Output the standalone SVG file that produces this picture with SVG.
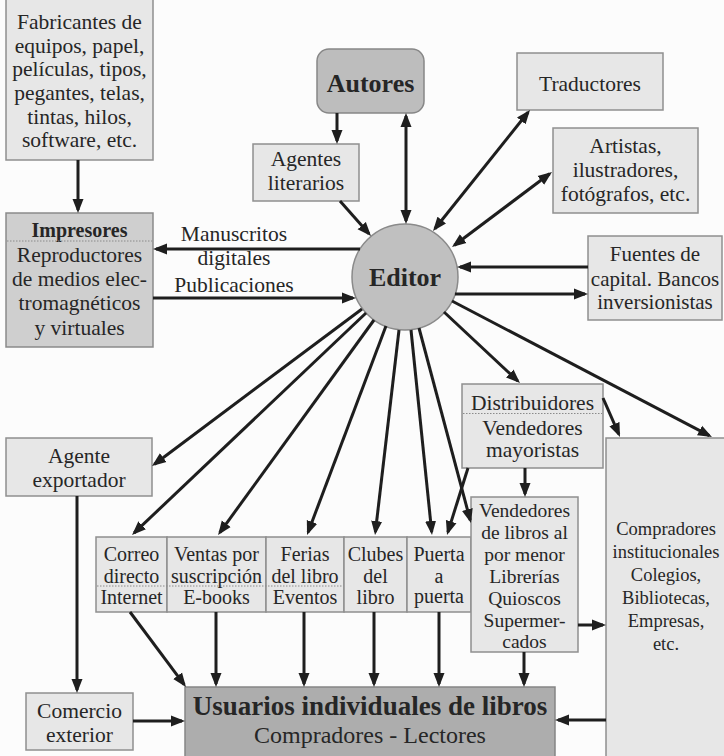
<svg xmlns="http://www.w3.org/2000/svg" width="724" height="756" viewBox="0 0 724 756">
<style>
text{font-family:"Liberation Serif","Times New Roman",serif;fill:#262626;text-anchor:middle}
.t{font-size:21.5px}
.s{font-size:20px}
.v{font-size:19.5px}
.c{font-size:18.5px}
.b{font-weight:bold}
.box{fill:#e7e7e7;stroke:#8f8f8f;stroke-width:1.5}
.mid{fill:#cfcfcf;stroke:#8a8a8a;stroke-width:1.5}
.dot{stroke:#8a8a8a;stroke-width:1;stroke-dasharray:1.5 1.5;fill:none}
.ln{stroke:#1e1e1e;stroke-width:3;fill:none;marker-end:url(#ah)}
.bi{marker-start:url(#ah)}
</style>
<defs>
<marker id="ah" markerUnits="userSpaceOnUse" markerWidth="15" markerHeight="12" refX="11" refY="6" orient="auto-start-reverse">
<path d="M0,0.5 L14,6 L0,11.5 z" fill="#1e1e1e"/>
</marker>
</defs>
<rect width="724" height="756" fill="#fcfcfc"/>

<g id="fabricantes">
<rect class="box" x="6" y="-1" width="147" height="161"/>
<text class="t" x="79.5" y="29">Fabricantes de</text>
<text class="t" x="79.5" y="52.5">equipos, papel,</text>
<text class="t" x="79.5" y="76">películas, tipos,</text>
<text class="t" x="79.5" y="100">pegantes, telas,</text>
<text class="t" x="79.5" y="123.5">tintas, hilos,</text>
<text class="t" x="79.5" y="147">software, etc.</text>
</g>

<g id="impresores">
<rect class="mid" x="6" y="213" width="147" height="134"/>
<text class="b" x="79.5" y="237" style="font-size:20px">Impresores</text>
<line class="dot" x1="7" y1="241" x2="152" y2="241"/>
<text class="t" x="79.5" y="262">Reproductores</text>
<text class="t" x="79.5" y="286">de medios elec-</text>
<text class="t" x="79.5" y="310">tromagnéticos</text>
<text class="t" x="79.5" y="335">y virtuales</text>
</g>

<g id="autores">
<rect x="317" y="49" width="107" height="64" rx="12" fill="#bdbdbd" stroke="#878787" stroke-width="1.5"/>
<text class="b" x="370.5" y="92" style="font-size:26px">Autores</text>
</g>

<g id="agentes">
<rect class="box" x="253" y="144" width="106" height="57"/>
<text class="t" x="306" y="166">Agentes</text>
<text class="t" x="306" y="190">literarios</text>
</g>

<g id="traductores">
<rect class="box" x="517" y="53" width="146" height="57"/>
<text class="t" x="590" y="91">Traductores</text>
</g>

<g id="artistas">
<rect class="box" x="553" y="128" width="145" height="85"/>
<text class="t" x="625.5" y="153">Artistas,</text>
<text class="t" x="625.5" y="177">ilustradores,</text>
<text class="t" x="625.5" y="201">fotógrafos, etc.</text>
</g>

<g id="editor">
<circle cx="405" cy="277" r="53" fill="#c0c0c0" stroke="#8a8a8a" stroke-width="1.5"/>
<text class="b" x="405" y="286" style="font-size:26px">Editor</text>
</g>

<g id="fuentes">
<rect class="box" x="588" y="236" width="134" height="84"/>
<text class="t" x="655" y="261" style="font-size:21px">Fuentes de</text>
<text class="t" x="655" y="286" style="font-size:21px">capital. Bancos</text>
<text class="t" x="655" y="309" style="font-size:21px">inversionistas</text>
</g>

<g id="agente-exportador">
<rect class="box" x="6" y="438" width="146" height="58"/>
<text class="t" x="79" y="463">Agente</text>
<text class="t" x="79" y="487">exportador</text>
</g>

<g id="distribuidores">
<rect class="box" x="462" y="384" width="141" height="84"/>
<text class="t" x="532.5" y="410">Distribuidores</text>
<line class="dot" x1="463" y1="413.5" x2="602" y2="413.5"/>
<text class="t" x="532.5" y="435">Vendedores</text>
<text class="t" x="532.5" y="457">mayoristas</text>
</g>

<g id="canales">
<rect class="box" x="96" y="537" width="71" height="75"/>
<rect class="box" x="167" y="537" width="99" height="75"/>
<rect class="box" x="266" y="537" width="78" height="75"/>
<rect class="box" x="344" y="537" width="63" height="75"/>
<rect class="box" x="407" y="537" width="64" height="75"/>
<line class="dot" x1="97" y1="586" x2="343" y2="586"/>
<text class="s" x="131.5" y="561">Correo</text>
<text class="s" x="131.5" y="582.5">directo</text>
<text class="s" x="131.5" y="604">Internet</text>
<text class="s" x="216.5" y="561">Ventas por</text>
<text class="s" x="216.5" y="582.5">suscripción</text>
<text class="s" x="216.5" y="604">E-books</text>
<text class="s" x="305" y="561">Ferias</text>
<text class="s" x="305" y="582.5">del libro</text>
<text class="s" x="305" y="604">Eventos</text>
<text class="s" x="375.5" y="561">Clubes</text>
<text class="s" x="375.5" y="582.5">del</text>
<text class="s" x="375.5" y="604">libro</text>
<text class="s" x="439" y="561">Puerta</text>
<text class="s" x="439" y="582.5">a</text>
<text class="s" x="439" y="603">puerta</text>
</g>

<g id="vendedores-libros">
<rect class="box" x="471" y="497" width="107" height="155"/>
<text class="v" x="524.5" y="517">Vendedores</text>
<text class="v" x="524.5" y="539">de libros al</text>
<text class="v" x="524.5" y="561">por menor</text>
<text class="v" x="524.5" y="582.5">Librerías</text>
<text class="v" x="524.5" y="604.5">Quioscos</text>
<text class="v" x="524.5" y="626.5">Supermer-</text>
<text class="v" x="524.5" y="648">cados</text>
</g>

<g id="compradores-institucionales">
<rect class="box" x="606" y="438" width="121" height="322"/>
<text class="c" x="666" y="535">Compradores</text>
<text class="c" x="666" y="558">institucionales</text>
<text class="c" x="666" y="581">Colegios,</text>
<text class="c" x="666" y="604">Bibliotecas,</text>
<text class="c" x="666" y="627">Empresas,</text>
<text class="c" x="666" y="650">etc.</text>
</g>

<g id="comercio-exterior">
<rect class="box" x="26" y="693" width="107" height="57"/>
<text class="t" x="79.5" y="718">Comercio</text>
<text class="t" x="79.5" y="742">exterior</text>
</g>

<g id="usuarios">
<rect x="185" y="687" width="370" height="72" fill="#adadad" stroke="#858585" stroke-width="1.5"/>
<text class="b" x="370" y="715" style="font-size:27px">Usuarios individuales de libros</text>
<text x="370" y="743" style="font-size:24px">Compradores - Lectores</text>
</g>

<g id="labels">
<text class="t" x="234" y="241">Manuscritos</text>
<text class="t" x="234" y="265">digitales</text>
<text class="t" x="234" y="292">Publicaciones</text>
</g>

<g id="connectors">
<line class="ln" x1="78" y1="160" x2="78" y2="210"/>
<line class="ln" x1="360" y1="249" x2="156" y2="249"/>
<line class="ln" x1="153" y1="298" x2="353" y2="298"/>
<line class="ln" x1="337" y1="113" x2="337" y2="141"/>
<line class="ln bi" x1="406" y1="116" x2="406" y2="221"/>
<line class="ln" x1="340" y1="201" x2="369" y2="233.8"/>
<line class="ln bi" x1="434.9" y1="228.7" x2="528.1" y2="112.3"/>
<line class="ln bi" x1="454.4" y1="245.2" x2="549.6" y2="173.8"/>
<line class="ln" x1="588" y1="267" x2="460" y2="267"/>
<line class="ln" x1="455" y1="294" x2="585" y2="294"/>
<line class="ln" x1="362" y1="309" x2="154.4" y2="464.2"/>
<line class="ln" x1="366" y1="313" x2="134.2" y2="532.9"/>
<line class="ln" x1="374" y1="320" x2="219.8" y2="532.6"/>
<line class="ln" x1="386" y1="326" x2="308.1" y2="532.2"/>
<line class="ln" x1="399" y1="330" x2="375.4" y2="532"/>
<line class="ln" x1="411" y1="330" x2="431.7" y2="532"/>
<line class="ln" x1="419" y1="328" x2="470.2" y2="520.1"/>
<line class="ln" x1="444" y1="312" x2="517.8" y2="381"/>
<line class="ln" x1="452" y1="301" x2="709.3" y2="435.6"/>
<line class="ln" x1="603" y1="398" x2="618.8" y2="434.2"/>
<line class="ln" x1="468" y1="468" x2="447.9" y2="532.1"/>
<line class="ln" x1="525" y1="468" x2="525" y2="494"/>
<line class="ln" x1="578" y1="625" x2="603" y2="625"/>
<line class="ln" x1="606" y1="720" x2="558" y2="720"/>
<line class="ln" x1="133" y1="721" x2="182" y2="721"/>
<line class="ln" x1="77" y1="496" x2="77" y2="690"/>
<line class="ln" x1="130" y1="612" x2="184.2" y2="684.6"/>
<line class="ln" x1="216" y1="612" x2="216" y2="684"/>
<line class="ln" x1="304" y1="612" x2="304" y2="684"/>
<line class="ln" x1="374" y1="612" x2="374" y2="684"/>
<line class="ln" x1="439" y1="612" x2="439" y2="684"/>
<line class="ln" x1="524" y1="652" x2="524" y2="684"/>
</g>
</svg>
